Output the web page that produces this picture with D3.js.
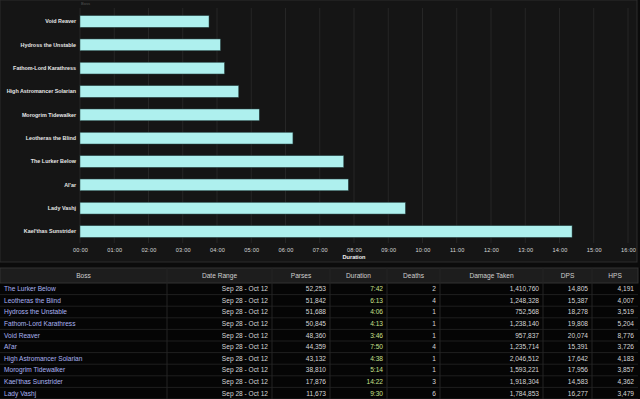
<!DOCTYPE html>
<html>
<head>
<meta charset="utf-8">
<script src="https://cdn.jsdelivr.net/npm/d3@7"></script>
<style>
  body { margin: 0; background: #0b0b0b; }
  svg { display: block; }
</style>
</head>
<body>
<svg id="chart" width="640" height="399"></svg>
<script>
// table rows, in the order the table lists them
const bosses = ["The Lurker Below", "Leotheras the Blind", "Hydross the Unstable", "Fathom-Lord Karathress",
    "Void Reaver", "Al'ar", "High Astromancer Solarian", "Morogrim Tidewalker", "Kael'thas Sunstrider", "Lady Vashj"];
const dateRanges = ["Sep 28 - Oct 12", "Sep 28 - Oct 12", "Sep 28 - Oct 12", "Sep 28 - Oct 12", "Sep 28 - Oct 12",
    "Sep 28 - Oct 12", "Sep 28 - Oct 12", "Sep 28 - Oct 12", "Sep 28 - Oct 12", "Sep 28 - Oct 12"];
const parses = [52253, 51842, 51688, 50845, 48360, 44359, 43132, 38810, 17876, 11673];
const durations = [462, 373, 246, 253, 226, 470, 278, 314, 862, 570]; // seconds
const deaths = [2, 4, 1, 1, 1, 4, 1, 1, 3, 6];
const damageTaken = [1410760, 1248328, 752568, 1238140, 957837, 1235714, 2046512, 1593221, 1918304, 1784853];
const dps = [14805, 15387, 18278, 19808, 20074, 15391, 17642, 17956, 14583, 16277];
const hps = [4191, 4007, 3519, 5204, 8776, 3726, 4183, 3857, 4362, 3479];

const columns = ["Boss", "Date Range", "Parses", "Duration", "Deaths", "Damage Taken", "DPS", "HPS"];
const colEdges = [0, 167, 272, 330, 387, 440, 543, 592, 638];

const svg = d3.select("#chart");
const fmtNum = d3.format(",");
const fmtTime = s => d3.format("02")(Math.floor(s / 60)) + ":" + d3.format("02")(s % 60);
const fmtShort = s => Math.floor(s / 60) + ":" + d3.format("02")(s % 60);

// ---------- bar chart ----------
svg.append("rect")
    .attr("x", 0).attr("y", 0).attr("width", 637).attr("height", 262)
    .attr("fill", "#151515").attr("stroke", "#2c2c2c");

const chartData = bosses.map((b, i) => ({ name: b, dur: durations[i] }))
    .sort((a, b) => a.dur - b.dur);

const x = d3.scaleLinear().domain([0, 960]).range([80, 628]);
const y = d3.scaleBand()
    .domain(chartData.map(d => d.name))
    .range([9.8, 243.2])
    .paddingInner(0.5)
    .paddingOuter(0.25);

const grid = svg.append("g");
grid.selectAll("line")
    .data(d3.range(0, 961, 60))
    .join("line")
    .attr("x1", d => x(d)).attr("x2", d => x(d))
    .attr("y1", 8).attr("y2", 243)
    .attr("stroke", "#262626").attr("stroke-width", 1);

svg.append("text")
    .attr("x", 81).attr("y", 5)
    .attr("font-family", "Liberation Sans, Arial, sans-serif")
    .attr("font-size", 4).attr("fill", "#555")
    .text("Boss");

svg.append("g")
    .selectAll("rect")
    .data(chartData)
    .join("rect")
    .attr("x", x(0))
    .attr("y", d => y(d.name))
    .attr("width", d => x(d.dur) - x(0))
    .attr("height", y.bandwidth())
    .attr("fill", "#aef0ee")
    .attr("stroke", "#2a4a4a").attr("stroke-width", 0.5);

const yAxis = svg.append("g")
    .attr("transform", `translate(${x(0)},0)`)
    .call(d3.axisLeft(y).tickSize(0).tickPadding(4));
yAxis.select(".domain").remove();
yAxis.selectAll("text")
    .attr("font-family", "Liberation Sans, Arial, sans-serif")
    .attr("font-weight", "bold")
    .attr("font-size", 5.4)
    .attr("fill", "#e6e6e6");

const xAxis = svg.append("g")
    .attr("transform", "translate(0,243)")
    .call(d3.axisBottom(x).tickValues(d3.range(0, 961, 60)).tickFormat(fmtTime).tickSize(0).tickPadding(5));
xAxis.select(".domain").remove();
xAxis.selectAll("text")
    .attr("font-family", "Liberation Sans, Arial, sans-serif")
    .attr("font-size", 5.6)
    .attr("letter-spacing", 0.2)
    .attr("fill", "#d8d8d8");

svg.append("text")
    .attr("x", 354).attr("y", 259)
    .attr("text-anchor", "middle")
    .attr("font-family", "Liberation Sans, Arial, sans-serif")
    .attr("font-weight", "bold")
    .attr("font-size", 5.6)
    .attr("fill", "#f0f0f0")
    .text("Duration");

// ---------- table ----------
const tableTop = 268, headH = 15, rowH = 11.6;
const table = svg.append("g");

table.append("rect")
    .attr("x", 0).attr("y", tableTop).attr("width", 640).attr("height", 399 - tableTop)
    .attr("fill", "#050505");
table.append("rect")
    .attr("x", 0).attr("y", tableTop).attr("width", 638).attr("height", headH)
    .attr("fill", "#1d1d1d").attr("stroke", "#333");

table.selectAll(".hdr")
    .data(columns)
    .join("text")
    .attr("class", "hdr")
    .attr("x", (d, i) => (colEdges[i] + colEdges[i + 1]) / 2)
    .attr("y", tableTop + headH / 2 + 2.3)
    .attr("text-anchor", "middle")
    .attr("font-family", "Liberation Sans, Arial, sans-serif")
    .attr("font-size", 6.6)
    .attr("fill", "#cfcfcf")
    .text(d => d);

const rows = bosses.map((b, i) => [b, dateRanges[i], fmtNum(parses[i]), fmtShort(durations[i]),
    deaths[i], fmtNum(damageTaken[i]), fmtNum(dps[i]), fmtNum(hps[i])]);

rows.forEach((r, ri) => {
    const top = tableTop + headH + ri * rowH;
    table.append("line")
        .attr("x1", 0).attr("x2", 638)
        .attr("y1", top + rowH).attr("y2", top + rowH)
        .attr("stroke", "#1f1f1f");
    r.forEach((v, ci) => {
        table.append("text")
            .attr("x", ci === 0 ? 4 : colEdges[ci + 1] - 4)
            .attr("y", top + rowH / 2 + 2.3)
            .attr("text-anchor", ci === 0 ? "start" : "end")
            .attr("font-family", "Liberation Sans, Arial, sans-serif")
            .attr("font-size", 6.6)
            .attr("fill", ci === 0 ? "#a9b2f2" : ci === 3 ? "#c9e08c" : "#d6d6d6")
            .text(v);
    });
});

// column separators
table.selectAll(".sep")
    .data(colEdges.slice(1, -1))
    .join("line")
    .attr("class", "sep")
    .attr("x1", d => d).attr("x2", d => d)
    .attr("y1", tableTop).attr("y2", 399)
    .attr("stroke", "#242424");
</script>
</body>
</html>
